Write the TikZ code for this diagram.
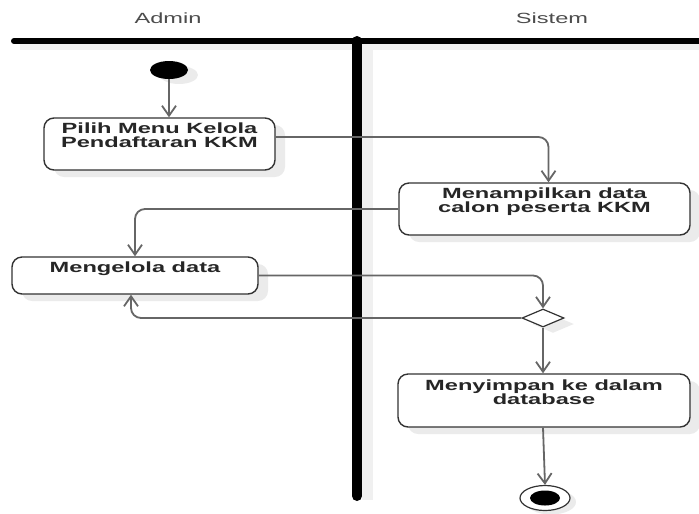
\documentclass[tikz,border=0pt]{standalone}
\usepackage{fontspec}
\setmainfont[FakeStretch=1.6]{Liberation Sans}
\usetikzlibrary{positioning,calc,shapes.geometric,shadows,arrows.meta}
\begin{document}
\begin{tikzpicture}[x=0.25mm,y=-0.25mm]
  \tikzstyle{act} = [draw=black!80, line width=0.35mm, rounded corners=2.5mm, fill=white,
    drop shadow={shadow xshift=2.5mm, shadow yshift=-1.75mm, fill=black!8, opacity=1}]
  \tikzstyle{acttext} = [anchor=north, align=center, inner sep=0pt,
    font=\bfseries\fontsize{10.5pt}{10pt}\selectfont, text=black!85]
  \tikzstyle{lane} = [font=\fontsize{10.5pt}{12pt}\selectfont, text=black!70]
  \tikzstyle{flow} = [draw=black!60, line width=0.45mm, rounded corners=2.5mm,
    -{Straight Barb[length=2.5mm,width=3.5mm]}]
  \useasboundingbox (0,0) rectangle (699,513);

  \node[lane] (admin) at (168,18) {Admin};
  \node[lane] (sistem) at (552,18) {Sistem};

  \fill[black!6] (20,44) rectangle (699,50);
  \fill[black!6] (362,44) rectangle (373,500);
  \draw[line width=1.5mm, line cap=round] (14,41) -- (699,41);
  \draw[line width=2.5mm, line cap=round] (357,41) -- (357,496);

  \node[ellipse, fill=black, minimum width=9.5mm, minimum height=4.5mm, inner sep=0,
    drop shadow={shadow xshift=2.5mm, shadow yshift=-1.25mm, fill=black!8, opacity=1}]
    (start) at (169,70) {};

  \node[act, minimum width=57.75mm, minimum height=13mm] (pilih) at (159.5,144) {};
  \node[acttext, below=1.25mm of pilih.north] (pilihtext) {Pilih Menu Kelola\\Pendaftaran KKM};

  \node[act, minimum width=72.75mm, minimum height=13mm] (tampil) at (544.5,209) {};
  \node[acttext, below=1.25mm of tampil.north] (tampiltext) {Menampilkan data\\calon peserta KKM};

  \node[act, minimum width=61.5mm, minimum height=9.25mm] (kelola) at (135,275.5) {};
  \node[acttext, below=1.25mm of kelola.north] (kelolatext) {Mengelola data};

  \node[diamond, draw=black!80, line width=0.3mm, fill=white, inner sep=0,
    minimum width=10.5mm, minimum height=4.5mm,
    drop shadow={shadow xshift=2.5mm, shadow yshift=-1.5mm, fill=black!8, opacity=1}]
    (cek) at (543,318) {};

  \node[act, minimum width=73mm, minimum height=13.25mm] (simpan) at (544,400.5) {};
  \node[acttext, below=1.5mm of simpan.north] (simpantext) {Menyimpan ke dalam\\database};

  \node[ellipse, draw=black!80, line width=0.3mm, fill=white, minimum width=12.5mm,
    minimum height=6.25mm, inner sep=0,
    drop shadow={shadow xshift=1.5mm, shadow yshift=-1mm, fill=black!8, opacity=1}]
    (end) at (545,498) {};
  \node[ellipse, fill=black, minimum width=7.5mm, minimum height=3.75mm, inner sep=0]
    (endin) at (end) {};

  \path[flow] (start) -- (start |- pilih.north);
  \path[flow] ($(pilih.east)+(0,-7)$) -| ($(tampil.north)+(4,0)$);
  \path[flow] (tampil.west) -| (kelola.north);
  \path[flow] (kelola.east) -| (cek.north);
  \path[flow] (cek.west) -| ($(kelola.south)+(-4,0)$);
  \path[flow] (cek.south) -- (cek |- simpan.north);
  \path[flow] (cek |- simpan.south) -- (end.north);
\end{tikzpicture}
\end{document}
